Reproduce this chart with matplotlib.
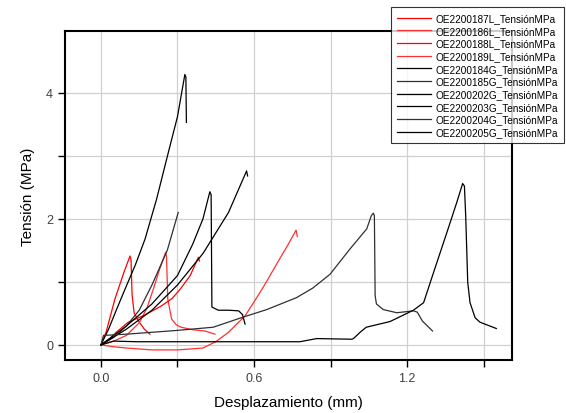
import matplotlib
matplotlib.use('Agg')
from matplotlib import pyplot as plt
from matplotlib.ticker import MultipleLocator

plt.rcParams['font.family'] = ['Liberation Sans', 'DejaVu Sans']

names = ['OE2200187L_TensiónMPa', 'OE2200186L_TensiónMPa', 'OE2200188L_TensiónMPa',
         'OE2200189L_TensiónMPa', 'OE2200184G_TensiónMPa', 'OE2200185G_TensiónMPa',
         'OE2200202G_TensiónMPa', 'OE2200203G_TensiónMPa', 'OE2200204G_TensiónMPa',
         'OE2200205G_TensiónMPa']
colors = ['#ff0000', '#ff3030', '#ff0000', '#ff3030',
          '#000000', '#303030', '#000000', '#000000', '#303030', '#000000']

# red samples (L)
x187 = [0, 0.02, 0.055, 0.09, 0.114, 0.118, 0.122, 0.13, 0.147, 0.17, 0.192]
y187 = [0, 0.2, 0.73, 1.15, 1.41, 1.35, 0.8, 0.51, 0.38, 0.25, 0.17]
x186 = [0, 0.05, 0.1, 0.15, 0.18, 0.205, 0.23, 0.254, 0.257, 0.262, 0.277, 0.295, 0.314,
        0.36, 0.408, 0.447]
y186 = [0, 0.06, 0.15, 0.35, 0.58, 0.88, 1.2, 1.47, 1.4, 0.73, 0.41, 0.32, 0.28, 0.24,
        0.22, 0.17]
x188 = [0, 0.03, 0.06, 0.107, 0.17, 0.238, 0.28, 0.31, 0.35, 0.382, 0.386]
y188 = [0, 0.08, 0.2, 0.36, 0.47, 0.62, 0.74, 0.88, 1.1, 1.39, 1.33]
x189 = [0, 0.05, 0.1, 0.2, 0.3, 0.4, 0.45, 0.5, 0.565, 0.6, 0.64, 0.70, 0.735, 0.765, 0.77]
y189 = [0, -0.03, -0.05, -0.08, -0.08, -0.05, 0.05, 0.2, 0.46, 0.68, 0.94, 1.36, 1.6,
        1.82, 1.72]

# black samples (G)
x184 = [0, 0.03, 0.06, 0.094, 0.135, 0.173, 0.218, 0.264, 0.3, 0.329, 0.333, 0.335]
y184 = [0, 0.25, 0.55, 0.88, 1.27, 1.68, 2.31, 3.05, 3.62, 4.29, 4.25, 3.53]
x185 = [0, 0.05, 0.1, 0.15, 0.2, 0.26, 0.303]
y185 = [0, 0.12, 0.3, 0.55, 0.95, 1.5, 2.10]
x202 = [0, 0.1, 0.2, 0.3, 0.36, 0.4, 0.427, 0.432, 0.435, 0.46, 0.5, 0.54, 0.555, 0.565]
y202 = [0, 0.3, 0.65, 1.1, 1.6, 2.0, 2.43, 2.38, 0.6, 0.55, 0.55, 0.54, 0.48, 0.33]
x203 = [0, 0.1, 0.2, 0.3, 0.4, 0.5, 0.571, 0.575]
y203 = [0, 0.25, 0.55, 0.95, 1.45, 2.1, 2.76, 2.68]
x204 = [0, 0.01, 0.1, 0.2, 0.3, 0.44, 0.557, 0.65, 0.767, 0.83, 0.898, 0.976, 1.042,
        1.06, 1.068, 1.072, 1.075, 1.08, 1.107, 1.16, 1.225, 1.24, 1.26, 1.30]
y204 = [0, 0.15, 0.17, 0.2, 0.23, 0.28, 0.44, 0.56, 0.75, 0.9, 1.12, 1.52, 1.84,
        2.05, 2.09, 2.05, 0.78, 0.65, 0.56, 0.51, 0.54, 0.52, 0.38, 0.22]
x205 = [0, 0.05, 0.14, 0.4, 0.78, 0.846, 0.983, 0.99, 1.016, 1.04, 1.133, 1.225, 1.265,
        1.30, 1.356, 1.395, 1.418, 1.425, 1.43, 1.438, 1.447, 1.467, 1.486, 1.55]
y205 = [0, 0.06, 0.05, 0.05, 0.05, 0.10, 0.09, 0.1, 0.2, 0.28, 0.37, 0.55, 0.67,
        1.10, 1.78, 2.26, 2.56, 2.52, 2.05, 0.99, 0.67, 0.43, 0.36, 0.26]

xs = [x187, x186, x188, x189, x184, x185, x202, x203, x204, x205]
ys = [y187, y186, y188, y189, y184, y185, y202, y203, y204, y205]

fig = plt.figure(figsize=(5.66, 4.14), dpi=100)
ax = fig.add_axes([0.1148, 0.128, 0.79, 0.7947])

for x, y, c, n in zip(xs, ys, colors, names):
    ax.plot(x, y, color=c, lw=0.9, label=n)

ax.set_xlim(-0.141, 1.612)
ax.set_ylim(-0.24, 4.98)
ax.xaxis.set_major_locator(MultipleLocator(0.6))
ax.xaxis.set_minor_locator(MultipleLocator(0.3))
ax.yaxis.set_major_locator(MultipleLocator(2))
ax.yaxis.set_minor_locator(MultipleLocator(1))
ax.xaxis.set_major_formatter(plt.FuncFormatter(lambda v, p: '%.1f' % v))
ax.grid(True, which='both', color='#d0d0d0', lw=0.9)
ax.set_axisbelow(True)
ax.tick_params(which='both', direction='out', length=5, width=1, labelcolor='#404040', labelsize=9)
for s in ax.spines.values():
    s.set_linewidth(1.5)

ax.set_xlabel('Desplazamiento (mm)', fontsize=11, labelpad=8)
ax.set_ylabel('Tensión (MPa)', fontsize=11, labelpad=8)

leg = fig.legend(loc='upper right', bbox_to_anchor=(564 / 566, 1 - 8 / 414),
                 fontsize=7.2, frameon=True, fancybox=False, edgecolor='black',
                 handlelength=3.4, labelspacing=0.27, borderpad=0.6, handletextpad=0.5,
                 borderaxespad=0)
leg.get_frame().set_linewidth(0.8)

fig.savefig('out.png', dpi=100)
